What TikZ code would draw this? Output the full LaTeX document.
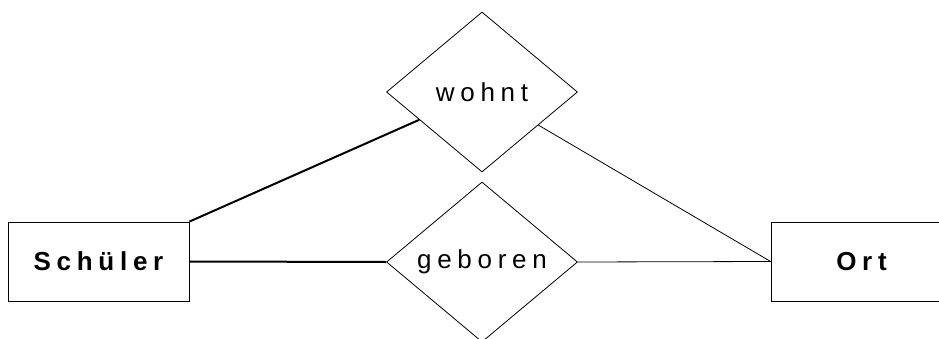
\documentclass[tikz,border=0pt]{standalone}
\usepackage{fontspec}
\setmainfont{Liberation Sans}[LetterSpace=22]
\usetikzlibrary{shapes.geometric}

\tikzset{
  entity/.style={draw, line width=0.8pt, minimum width=181pt, minimum height=79pt,
    inner sep=0pt, font=\fontsize{26}{30}\selectfont\bfseries},
  relation/.style={draw, diamond, line width=0.8pt, minimum width=191pt, minimum height=160pt,
    inner sep=0pt, font=\fontsize{26}{30}\selectfont},
  strong/.style={line width=2pt},
  weak/.style={line width=0.8pt}
}

\begin{document}
\begin{tikzpicture}[x=1pt,y=1pt]
    \useasboundingbox (0,0) rectangle (939,338);
    \clip (0,0) rectangle (939,338);
      % entities
      \node[entity] (schueler) at (98.5,76.5) {Schüler};
      \node[entity] (ort) at (861.5,76.5) {Ort};
      % relations
      \node[relation] (wohnt) at (482,246) {wohnt};
      \node[relation] (geboren) at (482,76) {geboren};
      % connections
      \draw[strong] (schueler.north east) -- (wohnt);
      \draw[strong] (schueler.east) -- (geboren.west);
      \draw[weak] (wohnt) -- (ort.west);
      \draw[weak] (geboren.east) -- (ort.west);
\end{tikzpicture}
\end{document}
